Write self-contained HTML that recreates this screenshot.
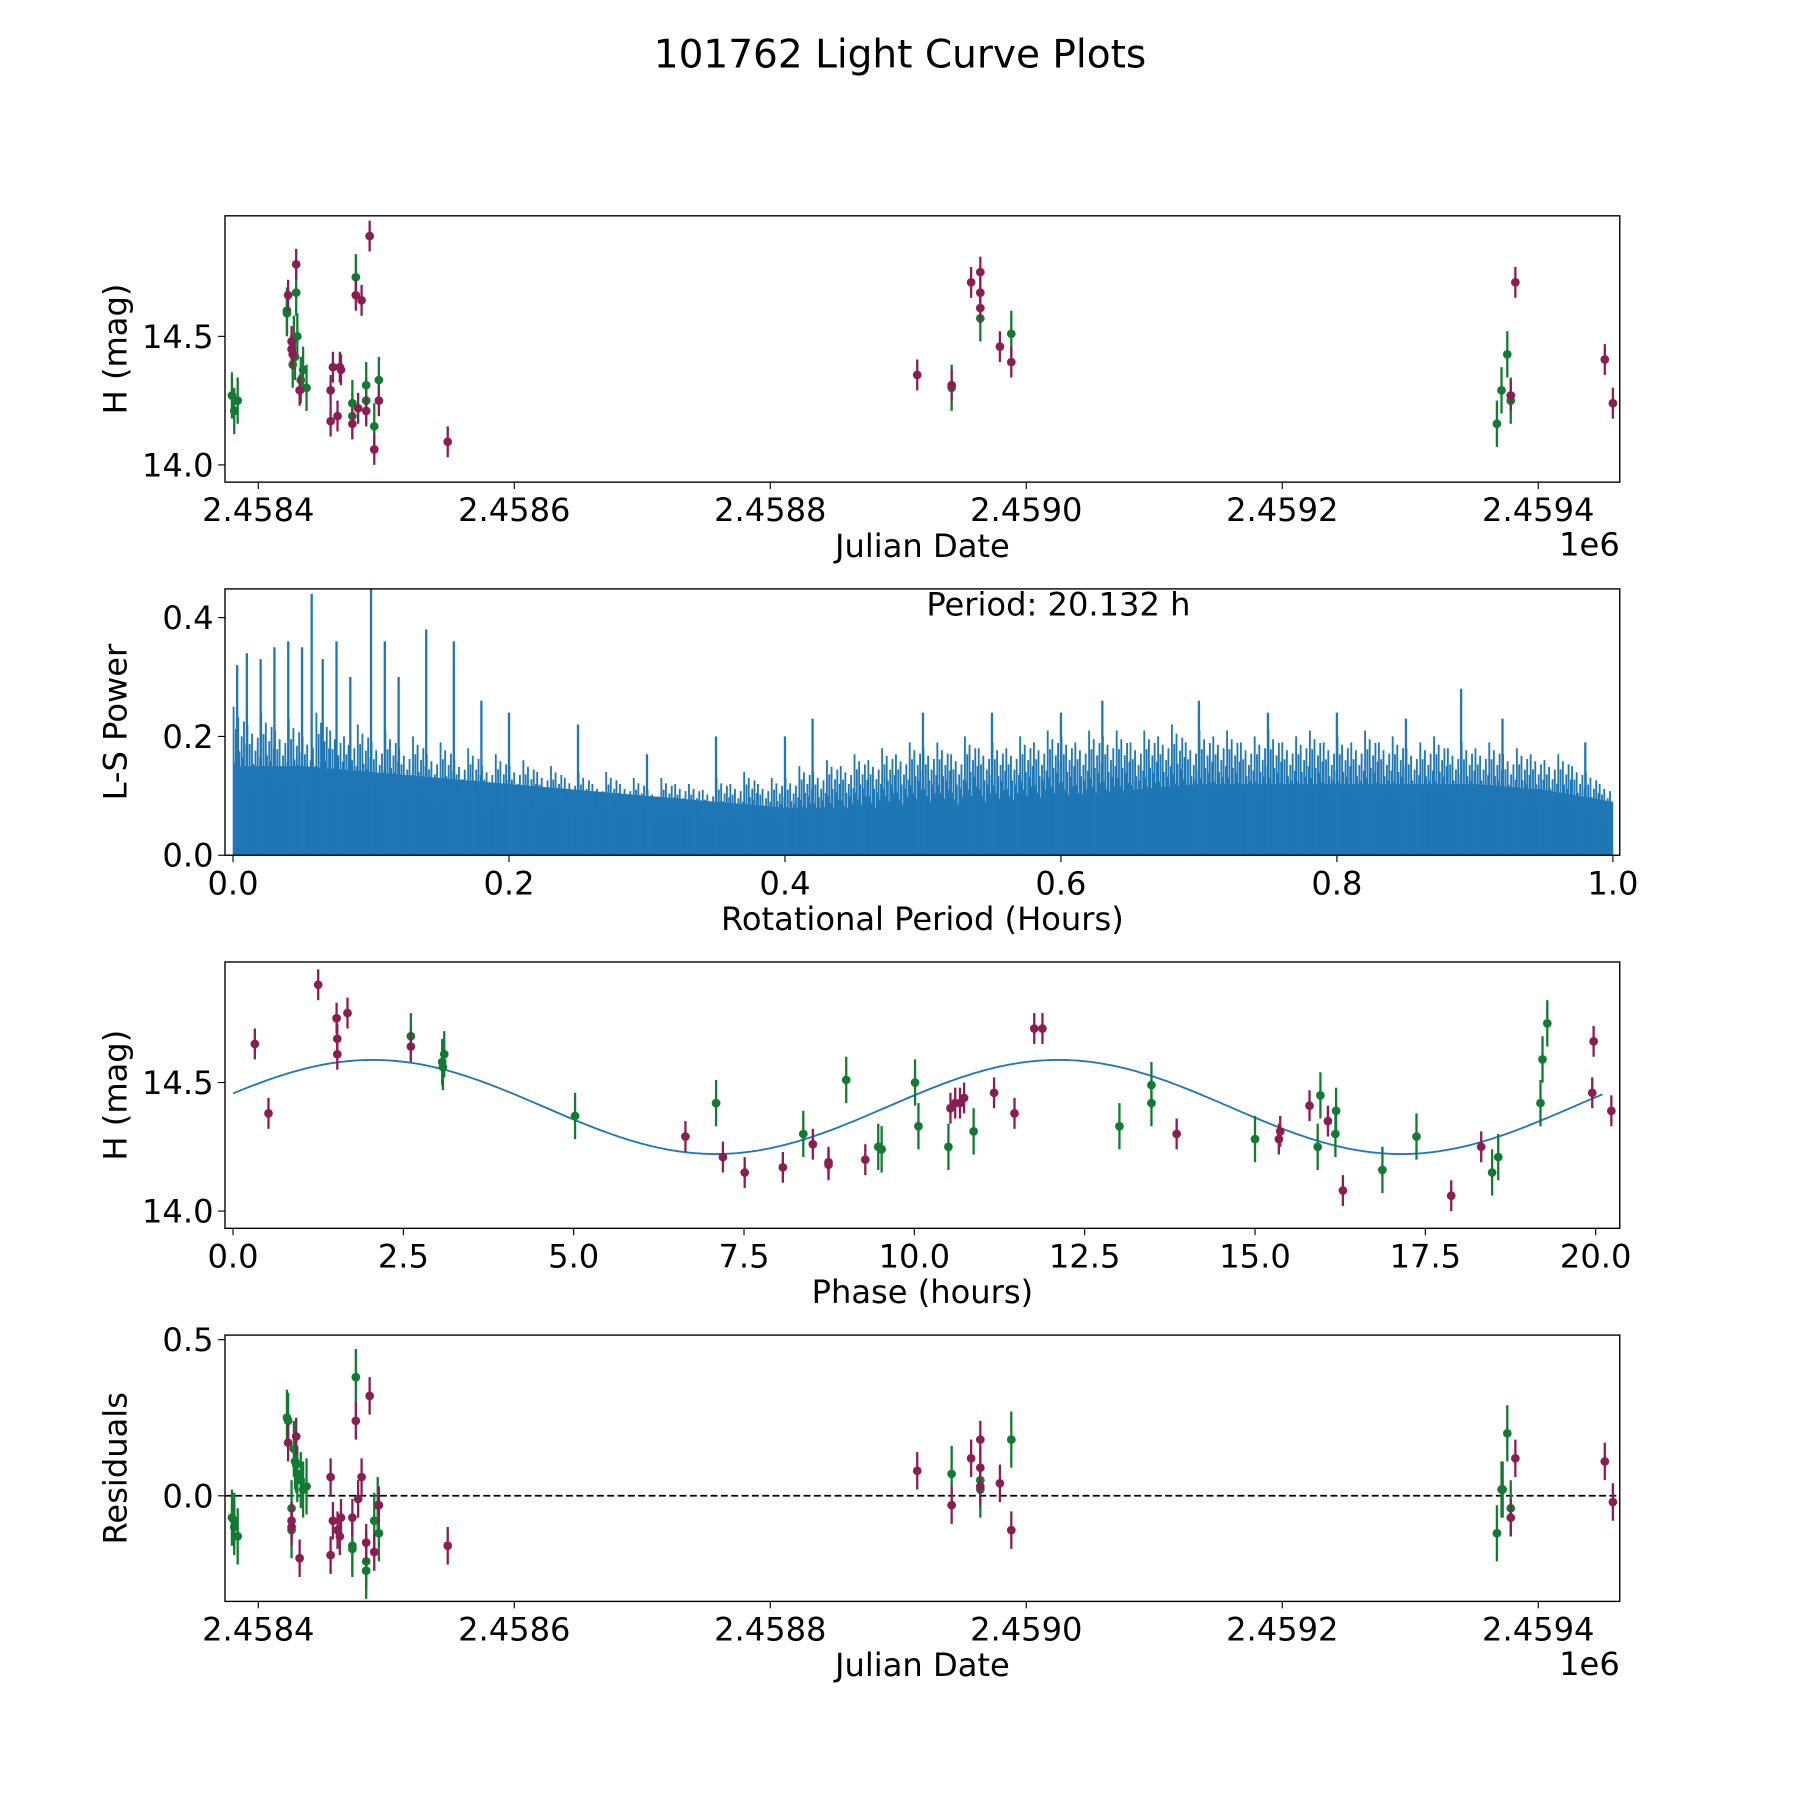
<!DOCTYPE html>
<html><head><meta charset="utf-8"><style>
html,body{margin:0;padding:0;background:#fff}
svg{display:block}
text{font-family:"DejaVu Sans","Liberation Sans",sans-serif;fill:#000}
</style></head><body>
<svg id="fig" width="1800" height="1800" viewBox="0 0 1568 1568" xmlns="http://www.w3.org/2000/svg">
<text x="784" y="59" font-size="34" text-anchor="middle">101762 Light Curve Plots</text>
<g id="g1"></g>
<g id="g2"></g>
<g id="g3"></g>
<g id="g4"></g>
</svg>
<script>
// ---- data (JD offsets from 2458400) ----
const jdGreen = [-20.6,-18.8,-16.1,22.4,22.4,29.6,26.9,27.8,28.7,30.5,33.2,35.0,37.7,73.5,73.5,76.2,84.3,84.3,90.6,94.2,541.7,564.1,588.3,967.7,971.3,975.8,978.5];
const magGreen = [14.27,14.21,14.25,14.60,14.59,14.67,14.39,14.49,14.42,14.50,14.33,14.37,14.30,14.24,14.19,14.73,14.31,14.25,14.15,14.33,14.30,14.57,14.51,14.16,14.29,14.43,14.25];
const jdPurple = [23.3,26.0,26.0,26.9,29.6,32.3,56.5,58.3,63.7,64.6,56.5,61.9,73.5,76.2,78.0,80.7,84.3,87.0,90.6,94.2,148.0,514.8,541.7,556.9,564.1,564.1,564.1,579.4,588.3,978.5,982.1,1052.0,1058.3];
const magPurple = [14.66,14.48,14.45,14.43,14.78,14.29,14.29,14.38,14.38,14.37,14.17,14.19,14.16,14.66,14.22,14.64,14.21,14.89,14.06,14.25,14.09,14.35,14.31,14.71,14.75,14.67,14.61,14.46,14.40,14.27,14.71,14.41,14.24];
const errGreen = 0.09, errPurple = 0.06;
// phase panel
const phPurple = [0.32,0.52,1.25,1.52,1.53,1.53,1.68,2.61,6.64,7.19,7.51,8.07,8.51,8.74,8.74,9.28,10.53,10.60,10.67,10.73,11.17,11.47,11.76,11.88,13.85,15.35,15.37,15.80,16.07,16.29,17.88,18.32,19.95,19.97,20.23];
const phMagPurple = [14.65,14.38,14.88,14.75,14.67,14.61,14.77,14.64,14.29,14.21,14.15,14.17,14.26,14.19,14.18,14.20,14.40,14.42,14.42,14.44,14.46,14.38,14.71,14.71,14.30,14.28,14.31,14.41,14.35,14.08,14.06,14.25,14.46,14.66,14.39];
const phGreen = [2.61,3.07,3.08,3.10,5.02,7.09,8.37,9.00,9.47,9.52,10.01,10.06,10.50,10.87,13.01,13.48,13.48,15.00,15.92,15.96,16.19,16.18,16.87,17.37,18.48,18.57,19.19,19.22,19.29];
const phMagGreen = [14.68,14.58,14.56,14.61,14.37,14.42,14.30,14.51,14.25,14.24,14.50,14.33,14.25,14.31,14.33,14.49,14.42,14.28,14.25,14.45,14.39,14.30,14.16,14.29,14.15,14.21,14.42,14.59,14.73];
const fitMean = [14.405], fitAmp = [0.183], fitPeak = [2.05], fitPeriod = [10.066];
// residuals
const resJdGreen = [-20.6,-18.8,-18.8,-16.1,22.4,23.3,26.0,26.0,27.8,28.7,29.6,30.5,33.2,35.0,37.7,73.5,73.5,76.2,84.3,84.3,90.6,94.2,93.3,541.7,564.1,564.1,588.3,967.7,971.3,975.8,978.5,972.2];
const resGreen = [-0.07,-0.10,-0.08,-0.13,0.25,0.24,-0.04,-0.11,0.15,0.11,0.10,0.07,0.05,0.02,0.03,-0.16,-0.17,0.38,-0.21,-0.24,-0.08,-0.12,-0.03,0.07,0.02,0.05,0.18,-0.12,0.02,0.20,-0.04,0.02];
const resJdPurple = [23.3,26.0,26.0,29.6,32.3,56.5,58.3,61.9,63.7,64.6,73.5,56.5,76.2,78.0,80.7,84.3,87.0,90.6,94.2,148.0,514.8,541.7,556.9,564.1,564.1,564.1,579.4,588.3,978.5,982.1,1052.0,1058.3];
const resPurple = [0.17,-0.08,-0.10,0.19,-0.20,0.06,-0.08,-0.11,-0.13,-0.07,-0.07,-0.19,0.24,-0.01,0.06,-0.15,0.32,-0.18,-0.03,-0.16,0.08,-0.03,0.12,0.18,0.09,0.03,0.04,-0.11,-0.07,0.12,0.11,-0.02];
// periodogram
const lsBase = [0.15,0.15,0.14,0.13,0.12,0.11,0.10,0.09,0.08,0.08,0.08,0.09,0.10,0.11,0.12,0.12,0.12,0.12,0.12,0.11,0.09];
const lsMid = [0.25,0.22,0.24,0.21,0.23,0.20,0.24,0.21,0.20,0.22,0.19,0.21,0.18,0.20,0.17,0.19,0.16,0.18,0.15,0.17,0.15,0.16,0.14,0.15,0.13,0.14,0.12,0.14,0.12,0.13,0.11,0.13,0.12,0.12,0.11,0.13,0.12,0.14,0.12,0.13,0.13,0.15,0.14,0.16,0.15,0.17,0.16,0.18,0.17,0.19,0.18,0.19,0.17,0.20,0.18,0.19,0.18,0.20,0.19,0.21,0.20,0.19,0.21,0.20,0.21,0.19,0.21,0.20,0.22,0.19,0.21,0.20,0.21,0.19,0.20,0.21,0.19,0.20,0.21,0.19,0.20,0.19,0.21,0.19,0.20,0.18,0.19,0.20,0.18,0.19,0.18,0.19,0.17,0.18,0.17,0.16,0.17,0.15,0.14,0.12];
const spikeX = [0.003,0.01,0.02,0.03,0.04,0.05,0.057,0.065,0.075,0.085,0.1,0.11,0.12,0.14,0.16,0.18,0.2,0.25,0.3,0.35,0.4,0.42,0.5,0.55,0.6,0.63,0.7,0.75,0.8,0.85,0.89,0.92,0.98];
const spikeY = [0.32,0.34,0.33,0.35,0.36,0.35,0.44,0.33,0.36,0.30,0.45,0.36,0.30,0.38,0.36,0.26,0.24,0.22,0.17,0.20,0.20,0.23,0.24,0.24,0.24,0.26,0.26,0.24,0.24,0.23,0.28,0.23,0.19];

const NS="http://www.w3.org/2000/svg";
const PUR="#8a1d52", GRN="#137a32", BLUE="#1f77b4";
const FS=28;
function mk(parent,tag,attrs){const e=document.createElementNS(NS,tag);for(const k in attrs)e.setAttribute(k,attrs[k]);parent.appendChild(e);return e;}
function txt(parent,x,y,s,size,anchor,rot){const t=mk(parent,'text',{x:x,y:y,'font-size':size,'text-anchor':anchor||'middle'});if(rot)t.setAttribute('transform',`rotate(-90 ${x} ${y})`);t.textContent=s;return t;}
function lin(d0,d1,p0,p1){return v=>p0+(v-d0)*(p1-p0)/(d1-d0);}

function frame(g,L,T,R,B,xt,xs,xlab,yt,ys,ylab,name){
  const f=mk(g,'rect',{x:L,y:T,width:R-L,height:B-T,fill:'none',stroke:'#000','stroke-width':1.2});
  
  xt.forEach(t=>{const x=xs(t.v);mk(g,'line',{x1:x,x2:x,y1:B,y2:B+6,stroke:'#000'});
    const l=txt(g,x,B+34,t.s,FS);});
  yt.forEach(t=>{const y=ys(t.v);mk(g,'line',{x1:L,x2:L-6,y1:y,y2:y,stroke:'#000'});
    const l=txt(g,L-10,y+10,t.s,FS,'end');});
  const xl=txt(g,(L+R)/2,B+65,xlab,FS);
  const yl=txt(g,L-86,(T+B)/2,ylab,FS,'middle',true);
}
function pts(g,xs,ys,X,Y,err,color,name,clip){
  X.forEach((xv,i)=>{const x=xs(xv),y=ys(Y[i]),e=Math.abs(ys(Y[i]+err)-y);
    const gg=mk(g,'g',{'clip-path':clip});
    
    mk(gg,'line',{x1:x,x2:x,y1:y-e,y2:y+e,stroke:color,'stroke-width':2});
    mk(gg,'circle',{cx:x,cy:y,r:3.8,fill:color});});
}
const defs=mk(document.getElementById('fig'),'defs',{});
function clip(id,L,T,R,B){const c=mk(defs,'clipPath',{id:id});mk(c,'rect',{x:L,y:T,width:R-L,height:B-T});return `url(#${id})`;}
const jdTicks=[0,200,400,600,800,1000].map(v=>({v:v,s:(2.4584+v/1e6).toFixed(4)}));

// Panel 1
{const g=document.getElementById('g1');const L=196,T=188,R=1411,B=420;
 const xs=lin(0,1,225,225+1.115),ys=lin(14.5,14.0,293,405);const c=clip('c1',L,T,R,B);
 frame(g,L,T,R,B,jdTicks,xs,'Julian Date',[{v:14.0,s:'14.0'},{v:14.5,s:'14.5'}],ys,'H (mag)','panel1');
 txt(g,1411,484,'1e6',FS,'end');
 pts(g,xs,ys,jdGreen,magGreen,errGreen,GRN,'green-point',c);
 pts(g,xs,ys,jdPurple,magPurple,errPurple,PUR,'purple-point',c);}

// Panel 2
{const g=document.getElementById('g2');const L=196,T=513,R=1411,B=745;
 const xs=lin(0,1,203,1405),ys=lin(0,0.4,745,538);const c=clip('c2',L,T,R,B);
 const gg=mk(g,'g',{'clip-path':c});
 let d=`M${xs(0)},${ys(0)}`;lsBase.forEach((v,i)=>{d+=` L${xs(i/(lsBase.length-1))},${ys(v)}`;});d+=` L${xs(1)},${ys(0)} Z`;
 const base=mk(gg,'path',{d:d,fill:BLUE});
 const fac=[1,0.62,0.85,0.55,0.93,0.7,0.5,0.8,0.66,0.9,0.58,0.75];
 lsMid.forEach((v,i)=>{for(let k=0;k<fac.length;k++){const xv=(i+(k+0.5)/fac.length)/lsMid.length;const h=v*fac[k];
   const l=mk(gg,'line',{x1:xs(xv),x2:xs(xv),y1:ys(0),y2:ys(h),stroke:BLUE,'stroke-width':1.6});
   }});
 spikeX.forEach((xv,i)=>{const l=mk(gg,'line',{x1:xs(xv),x2:xs(xv),y1:ys(0),y2:ys(spikeY[i]),stroke:BLUE,'stroke-width':2});
   });
 frame(g,L,T,R,B,[0,0.2,0.4,0.6,0.8,1.0].map(v=>({v:v,s:v.toFixed(1)})),xs,'Rotational Period (Hours)',[0,0.2,0.4].map(v=>({v:v,s:v.toFixed(1)})),ys,'L-S Power','panel2');
 const pl=txt(g,922,536,'Period: 20.132 h',FS);}

// Panel 3
{const g=document.getElementById('g3');const L=196,T=838,R=1411,B=1070;
 const xs=lin(0,20,203,1390),ys=lin(14.5,14.0,943,1055);const c=clip('c3',L,T,R,B);
 frame(g,L,T,R,B,[0,2.5,5,7.5,10,12.5,15,17.5,20].map(v=>({v:v,s:v.toFixed(1)})),xs,'Phase (hours)',[{v:14.0,s:'14.0'},{v:14.5,s:'14.5'}],ys,'H (mag)','panel3');
 let d='';for(let t=0;t<=20.13;t+=0.05){const m=fitMean[0]+fitAmp[0]*Math.cos(2*Math.PI*(t-fitPeak[0])/fitPeriod[0]);d+=(d?' L':'M')+xs(t).toFixed(1)+','+ys(m).toFixed(1);}
 const fl=mk(g,'path',{d:d,fill:'none',stroke:BLUE,'stroke-width':1.6});
 pts(g,xs,ys,phGreen,phMagGreen,errGreen,GRN,'green-point',c);
 pts(g,xs,ys,phPurple,phMagPurple,errPurple,PUR,'purple-point',c);}

// Panel 4
{const g=document.getElementById('g4');const L=196,T=1163,R=1411,B=1395;
 const xs=lin(0,1,225,225+1.115),ys=lin(0,0.5,1303,1167);const c=clip('c4',L,T,R,B);
 frame(g,L,T,R,B,jdTicks,xs,'Julian Date',[{v:0,s:'0.0'},{v:0.5,s:'0.5'}],ys,'Residuals','panel4');
 txt(g,1411,1459,'1e6',FS,'end');
 const z=mk(g,'line',{x1:L,x2:R,y1:ys(0),y2:ys(0),stroke:'#000','stroke-width':1.5,'stroke-dasharray':'6,3'});
 
 pts(g,xs,ys,resJdGreen,resGreen,errGreen,GRN,'green-residual',c);
 pts(g,xs,ys,resJdPurple,resPurple,errPurple,PUR,'purple-residual',c);}
</script>
</body></html>
